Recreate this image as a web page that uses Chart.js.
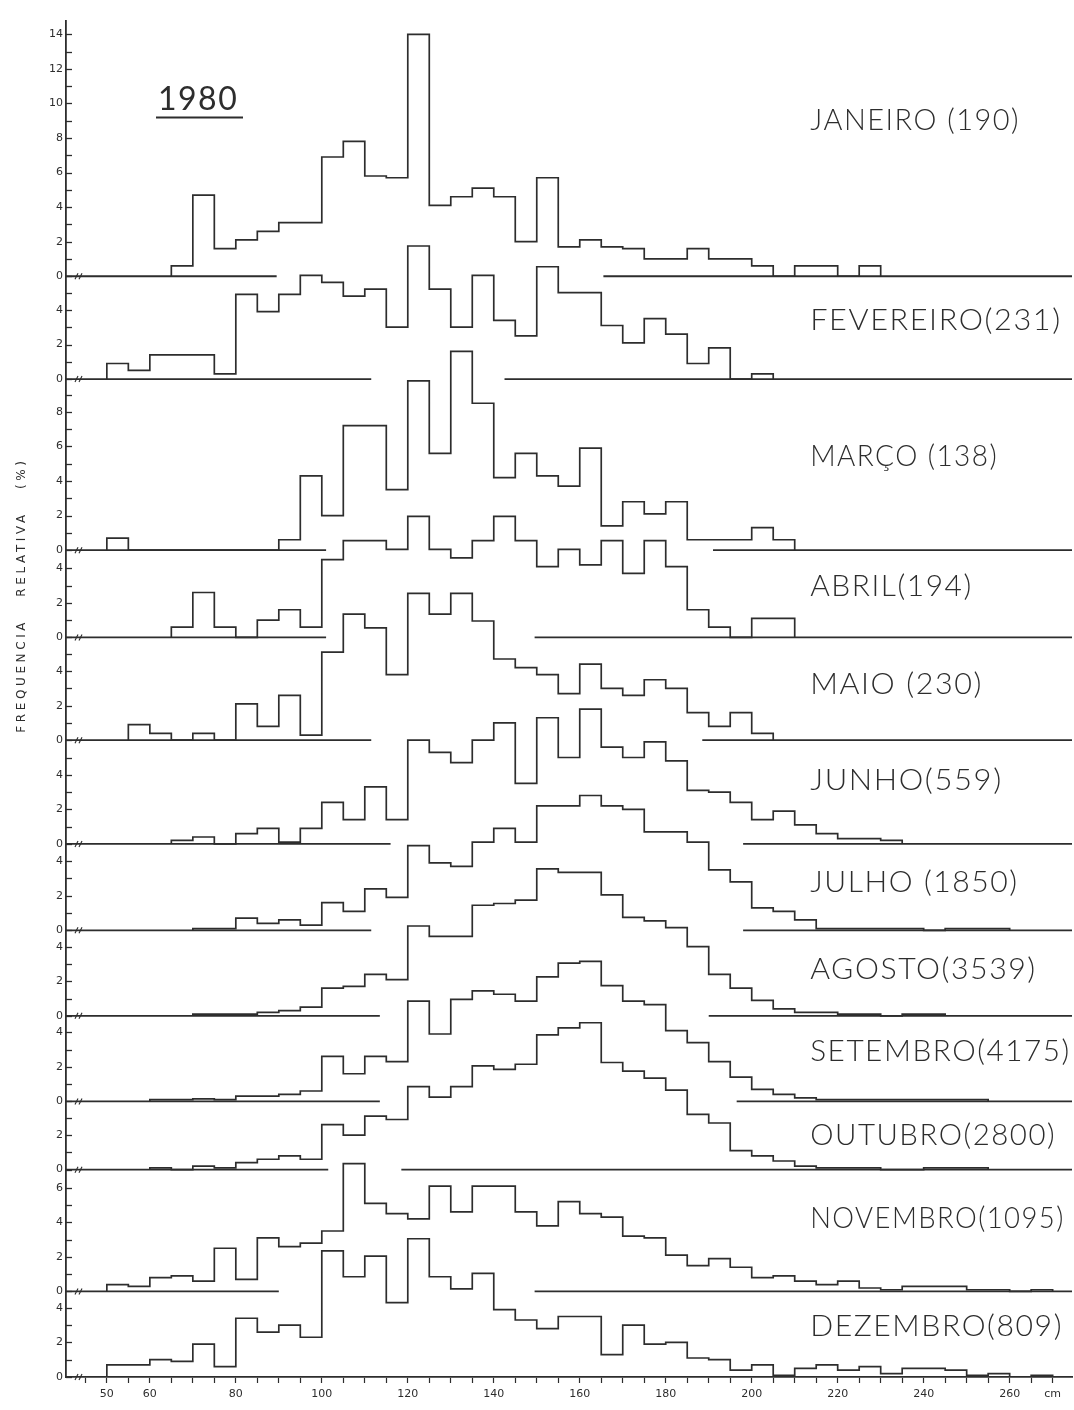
<!DOCTYPE html>
<html>
<head>
<meta charset="utf-8">
<title>Frequência relativa por classe de comprimento, 1980</title>
<script src="https://cdn.jsdelivr.net/npm/chart.js@4.4.1/dist/chart.umd.min.js"></script>
<style>
  html, body { margin: 0; padding: 0; background: #ffffff; }
  #wrap { width: 1074px; height: 1410px; position: relative; }
  canvas { display: block; }
</style>
</head>
<body>
<div id="wrap"><canvas id="chart" width="1074" height="1410"></canvas></div>
<script>
// Lower edge (cm) of each 5 cm length class
const classes = [50,55,60,65,70,75,80,85,90,95,100,105,110,115,120,125,130,135,140,145,
                 150,155,160,165,170,175,180,185,190,195,200,205,210,215,220,225,230,235,240,245,
                 250,255,260,265];
const classWidth = 5;

// Relative frequency (%) per class, one array per month
const janeiro   = [0,0,0,0.6,4.7,1.6,2.1,2.6,3.1,3.1, 6.9,7.8,5.8,5.7,14.0,4.1,4.6,5.1,4.6,2.0, 5.7,1.7,2.1,1.7,1.6,1.0,1.0,1.6,1.0,1.0, 0.6,0,0.6,0.6,0,0.6,0,0,0,0, 0,0,0,0];
const fevereiro = [0.9,0.5,1.4,1.4,1.4,0.3,4.9,3.9,4.9,6.0, 5.6,4.8,5.2,3.0,7.7,5.2,3.0,6.0,3.4,2.5, 6.5,5.0,5.0,3.1,2.1,3.5,2.6,0.9,1.8,0, 0.3,0,0,0,0,0,0,0,0,0, 0,0,0,0];
const marco     = [0.7,0,0,0,0,0,0,0,0.6,4.3, 2.0,7.2,7.2,3.5,9.8,5.6,11.5,8.5,4.2,5.6, 4.3,3.7,5.9,1.4,2.8,2.1,2.8,0.6,0.6,0.6, 1.3,0.6,0,0,0,0,0,0,0,0, 0,0,0,0];
const abril     = [0,0,0,0.6,2.6,0.6,0,1.0,1.6,0.6, 4.5,5.6,5.6,5.1,7.0,5.1,4.6,5.6,7.0,5.6, 4.1,5.1,4.2,5.6,3.7,5.6,4.1,1.6,0.6,0, 1.1,1.1,0,0,0,0,0,0,0,0, 0,0,0,0];
const maio      = [0,0.9,0.4,0,0.4,0,2.1,0.8,2.6,0.3, 5.1,7.3,6.5,3.8,8.5,7.3,8.5,6.9,4.7,4.2, 3.8,2.7,4.4,3.0,2.6,3.5,3.0,1.6,0.8,1.6, 0.4,0,0,0,0,0,0,0,0,0, 0,0,0,0];
const junho     = [0,0,0,0.2,0.4,0,0.6,0.9,0.1,0.9, 2.4,1.4,3.3,1.4,6.0,5.3,4.7,6.0,7.0,3.5, 7.3,5.0,7.8,5.6,5.0,5.9,4.8,3.1,3.0,2.4, 1.4,1.9,1.1,0.6,0.3,0.3,0.2,0,0,0, 0,0,0,0];
const julho     = [0,0,0,0,0.1,0.1,0.7,0.4,0.6,0.3, 1.6,1.1,2.4,1.9,4.9,3.9,3.7,5.1,5.9,5.1, 7.2,7.2,7.8,7.2,7.0,5.7,5.7,5.1,3.5,2.8, 1.3,1.1,0.6,0.1,0.1,0.1,0.1,0.1,0,0.1, 0.1,0.1,0,0];
const agosto    = [0,0,0,0,0.1,0.1,0.1,0.2,0.3,0.5, 1.6,1.7,2.4,2.1,5.2,4.6,4.6,6.4,6.5,6.7, 8.5,8.3,8.3,7.0,5.7,5.5,5.1,4.0,2.4,1.6, 0.9,0.4,0.2,0.2,0.1,0.1,0,0.1,0.1,0, 0,0,0,0];
const setembro  = [0,0,0.1,0.1,0.15,0.1,0.3,0.3,0.4,0.6, 2.6,1.6,2.6,2.3,5.8,3.9,5.9,6.4,6.2,5.8, 7.2,8.0,8.1,6.7,5.8,5.6,4.1,3.4,2.3,1.4, 0.7,0.4,0.2,0.1,0.1,0.1,0.1,0.1,0.1,0.1, 0.1,0,0,0];
const outubro   = [0,0,0.1,0,0.2,0.1,0.4,0.6,0.8,0.6, 2.6,2.0,3.1,2.9,4.8,4.2,4.8,6.0,5.8,6.1, 7.8,8.2,8.5,6.2,5.7,5.3,4.6,3.2,2.7,1.1, 0.8,0.5,0.2,0.1,0.1,0.1,0,0,0.1,0.1, 0.1,0,0,0];
const novembro  = [0.4,0.3,0.8,0.9,0.6,2.5,0.7,3.1,2.6,2.8, 3.5,7.4,5.1,4.5,4.2,6.1,4.6,6.1,6.1,4.6, 3.8,5.2,4.5,4.3,3.2,3.1,2.1,1.5,1.9,1.4, 0.8,0.9,0.6,0.4,0.6,0.2,0.1,0.3,0.3,0.3, 0.1,0.1,0,0.1];
const dezembro  = [0.7,0.7,1.0,0.9,1.9,0.6,3.4,2.6,3.0,2.3, 7.3,5.8,7.0,4.3,8.0,5.8,5.1,6.0,3.9,3.3, 2.8,3.5,3.5,1.3,3.0,1.9,2.0,1.1,1.0,0.4, 0.7,0.1,0.5,0.7,0.4,0.6,0.2,0.5,0.5,0.4, 0.1,0.2,0,0.1];

// Month captions with number of specimens measured
const monthNames = ['JANEIRO (190)','FEVEREIRO(231)','MARÇO (138)','ABRIL(194)','MAIO (230)','JUNHO(559)',
                    'JULHO (1850)','AGOSTO(3539)','SETEMBRO(4175)','OUTUBRO(2800)','NOVEMBRO(1095)','DEZEMBRO(809)'];
const series = [janeiro, fevereiro, marco, abril, maio, junho, julho, agosto, setembro, outubro, novembro, dezembro];

// Tick values for the length axis and the ones that carry a number
const xTickValues = [45,50,55,60,65,70,75,80,85,90,95,100,105,110,115,120,125,130,135,140,145,150,155,160,
                     165,170,175,180,185,190,195,200,205,210,215,220,225,230,235,240,245,250,255,260,265,270];
const xTickText = {50:'50',60:'60',80:'80',100:'100',120:'120',140:'140',160:'160',180:'180',
                   200:'200',220:'220',240:'240',260:'260',270:'cm'};

// ---- layout of the stacked panels (in % units on the shared vertical scale) ----
const panelBase    = [63.7, 57.75, 47.85, 42.8, 36.85, 30.85, 25.85, 20.9, 15.95, 12.0, 4.95, 0];
const panelTickTop = [14, 5, 9, 4, 5, 5, 4, 4, 4, 3, 6, 4];
const captionLift  = [9.0, 3.4, 5.4, 2.95, 3.2, 3.65, 2.75, 2.65, 2.9, 1.95, 4.2, 2.9];
// caption span along the length axis (cm): common start, individual end
const captionStart = 213.6;
const captionEnd   = [262.4, 272.1, 257.3, 251.4, 253.8, 258.4, 262.1, 266.3, 274.2, 270.8, 272.8, 272.4];
// drawn stretches of each zero line (cm)
const X_MIN = 40.5, X_MAX = 274.5, Y_MAX = 78.5;
const zeroRuns = [
  [[X_MIN, 89.5], [165.5, X_MAX]],
  [[X_MIN, 111.5], [142.5, X_MAX]],
  [[X_MIN, 101], [191, X_MAX]],
  [[X_MIN, 101], [149.5, X_MAX]],
  [[X_MIN, 111.5], [188.5, X_MAX]],
  [[X_MIN, 116], [198, X_MAX]],
  [[X_MIN, 111.5], [198, X_MAX]],
  [[X_MIN, 113.5], [190, X_MAX]],
  [[X_MIN, 113.5], [196.5, X_MAX]],
  [[X_MIN, 101.5], [118.5, X_MAX]],
  [[X_MIN, 90], [149.5, X_MAX]],
  [[X_MIN, X_MAX]]
];

const INK = '#2d2d2d';

// step outline of one month's histogram, lifted to its panel
function stepPoints(vals, base) {
  const first = vals.findIndex(v => v > 0);
  let last = vals.length - 1;
  while (last > 0 && !(vals[last] > 0)) last--;
  const pts = [{x: classes[first], y: base}];
  for (let i = first; i <= last; i++) pts.push({x: classes[i], y: base + vals[i]});
  pts.push({x: classes[last] + classWidth, y: base});
  return pts;
}
function runPoints(runs, base) {
  const pts = [];
  runs.forEach(([a, b], k) => {
    if (k) pts.push({x: a, y: null});
    pts.push({x: a, y: base}, {x: b, y: base});
  });
  return pts;
}

// vertical ticks: one per % unit in every panel, numbers on even values
const yTickValues = [], yTickText = [];
panelBase.forEach((b, p) => {
  for (let k = 0; k <= panelTickTop[p]; k++) {
    yTickValues.push(b + k);
    yTickText.push(k % 2 === 0 ? String(k) : '');
  }
});

const datasets = [];
series.forEach((vals, p) => {
  datasets.push({
    label: monthNames[p], data: stepPoints(vals, panelBase[p]), stepped: 'before',
    borderColor: INK, borderWidth: 1.7, pointRadius: 0, fill: false, order: 1
  });
  datasets.push({
    label: monthNames[p] + ' zero', data: runPoints(zeroRuns[p], panelBase[p]), spanGaps: false,
    borderColor: INK, borderWidth: 1.8, pointRadius: 0, fill: false, order: 2
  });
});

const decor = {
  id: 'decor',
  afterDraw(chart) {
    const {ctx, chartArea: ca, scales: {x, y}} = chart;
    ctx.save();
    ctx.strokeStyle = INK;
    ctx.fillStyle = INK;
    // inward tick marks on the frequency axis
    ctx.lineWidth = 1.3;
    y.ticks.forEach(t => {
      const py = Math.round(y.getPixelForValue(t.value)) + 0.5;
      ctx.beginPath(); ctx.moveTo(ca.left, py); ctx.lineTo(ca.left + 6, py); ctx.stroke();
    });
    // axis-break marks on each zero line
    ctx.lineWidth = 1.1;
    panelBase.forEach(b => {
      const py = y.getPixelForValue(b);
      [0, 4].forEach(d => {
        ctx.beginPath();
        ctx.moveTo(ca.left + 9 + d, py + 3);
        ctx.lineTo(ca.left + 12 + d, py - 3);
        ctx.stroke();
      });
    });
    // month captions, each fitted to its span
    ctx.font = '300 29px Lato, "Open Sans", sans-serif';
    ctx.letterSpacing = '1.5px';
    ctx.textBaseline = 'middle';
    ctx.textAlign = 'left';
    const x0 = x.getPixelForValue(captionStart);
    monthNames.forEach((name, p) => {
      const w = ctx.measureText(name).width;
      const k = (x.getPixelForValue(captionEnd[p]) - x0) / w;
      ctx.save();
      ctx.translate(x0, y.getPixelForValue(panelBase[p] + captionLift[p]));
      ctx.scale(k, 1);
      ctx.fillText(name, 0, 0);
      ctx.restore();
    });
    // year
    ctx.font = '32px Lato, "Open Sans", sans-serif';
    ctx.letterSpacing = '1.5px';
    ctx.fillText('1980', 158, 100);
    ctx.lineWidth = 2;
    ctx.beginPath(); ctx.moveTo(156, 117.5); ctx.lineTo(243, 117.5); ctx.stroke();
    // axis title
    ctx.translate(22, 595);
    ctx.rotate(-Math.PI / 2);
    ctx.font = '12px "DejaVu Sans", sans-serif';
    ctx.letterSpacing = '3.6px';
    ctx.textAlign = 'center';
    ctx.fillText('FREQUENCIA   RELATIVA   (%)', 0, 0);
    ctx.restore();
  }
};

new Chart(document.getElementById('chart'), {
  type: 'line',
  data: { datasets },
  options: {
    responsive: false,
    devicePixelRatio: 1,
    animation: false,
    layout: { padding: { top: 20.5, right: 2, left: 0, bottom: 0 } },
    plugins: { legend: { display: false }, tooltip: { enabled: false } },
    scales: {
      x: {
        type: 'linear', min: X_MIN, max: X_MAX,
        afterFit(s) { s.height = 33; },
        afterBuildTicks(s) { s.ticks = xTickValues.map(v => ({value: v})); },
        grid: { display: true, drawOnChartArea: false, drawTicks: true, tickLength: 6,
                tickWidth: 1.2, tickColor: INK },
        border: { display: true, color: INK, width: 1.8 },
        ticks: {
          autoSkip: false, maxRotation: 0, padding: 5, color: '#2d2d2d',
          font: { family: '"DejaVu Sans", sans-serif', size: 11 },
          callback: v => xTickText[v] || ''
        }
      },
      y: {
        type: 'linear', min: 0, max: Y_MAX,
        afterFit(s) { s.width = 66; },
        afterBuildTicks(s) { s.ticks = yTickValues.map(v => ({value: v})); },
        grid: { display: false, drawTicks: false },
        border: { display: true, color: INK, width: 1.8 },
        ticks: {
          autoSkip: false, padding: 3, color: '#2d2d2d',
          font: { family: '"DejaVu Sans", sans-serif', size: 11 },
          callback: (v, i) => yTickText[i]
        }
      }
    }
  },
  plugins: [decor]
});
</script>
</body>
</html>
